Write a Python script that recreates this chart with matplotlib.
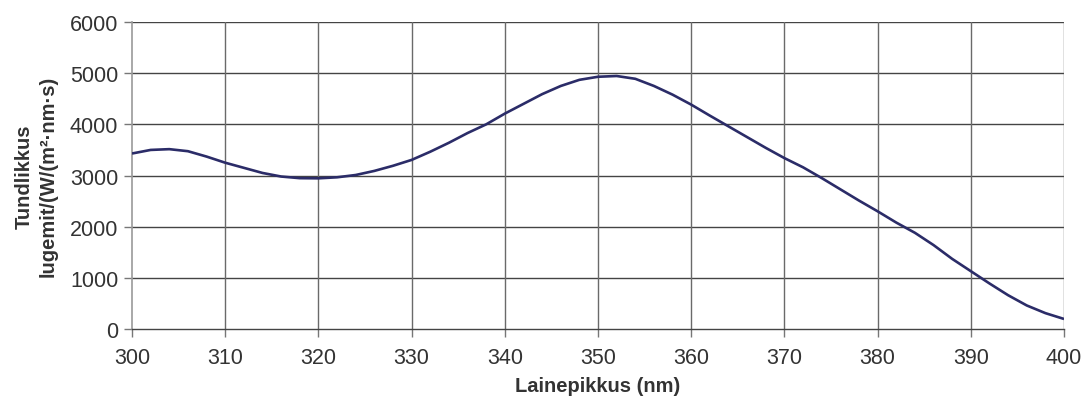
import numpy as np
import matplotlib
matplotlib.use("Agg")
import matplotlib.pyplot as plt

# data (every 2 nm) #
wavelength = np.arange(300, 401, 2)
sensitivity = [3430, 3500, 3515, 3475, 3370, 3250, 3150, 3050, 2980, 2948,
               2945, 2965, 3010, 3090, 3190, 3305, 3465, 3640, 3830, 4000,
               4210, 4400, 4590, 4750, 4870, 4930, 4945, 4890, 4750, 4580,
               4385, 4170, 3960, 3750, 3540, 3340, 3160, 2950, 2730, 2510,
               2300, 2080, 1880, 1640, 1370, 1130, 890, 660, 460, 310, 196]

xticks = list(range(300, 401, 10))
yticks = list(range(0, 6001, 1000))

xlabel = "Lainepikkus (nm)"
ylabel = "Tundlikkus\nlugemit/(W/(m²·nm·s)"

plt.rcParams['font.family'] = ['Liberation Sans', 'DejaVu Sans']
textcol = '#333333'

fig = plt.figure(figsize=(10.83, 4.14), dpi=100)
ax = fig.add_axes([0.1219, 0.2029, 0.8606, 0.7415])

ax.plot(wavelength, sensitivity, color='#2b2c68', lw=1.9,
        solid_joinstyle='round', solid_capstyle='butt', zorder=3)

ax.set_xlim(300, 400)
ax.set_ylim(0, 6000)
ax.set_xticks(xticks)
ax.set_yticks(yticks)

# grid #
for yv in yticks[1:]:
  ax.axhline(yv, color='#444444', lw=1.0, zorder=1)
for xv in xticks[1:]:
  ax.axvline(xv, color='#6a6a6a', lw=1.0, zorder=1)

for s in ['top', 'right']:
  ax.spines[s].set_visible(False)
ax.spines['left'].set_color('#999999')
ax.spines['left'].set_linewidth(1.2)
ax.spines['bottom'].set_color('#444444')
ax.spines['bottom'].set_linewidth(1.0)

ax.tick_params(axis='both', direction='out', length=6, width=1.0, color='#777777',
               labelsize=15.5, labelcolor=textcol)
ax.tick_params(axis='x', pad=7)
ax.tick_params(axis='y', pad=4)

ax.set_xlabel(xlabel, fontsize=14.5, fontweight='bold', color=textcol, labelpad=6)
ax.set_ylabel(ylabel, fontsize=14.5, fontweight='bold', color=textcol, labelpad=9,
              linespacing=1.3)

fig.savefig('out.png', dpi=100)
